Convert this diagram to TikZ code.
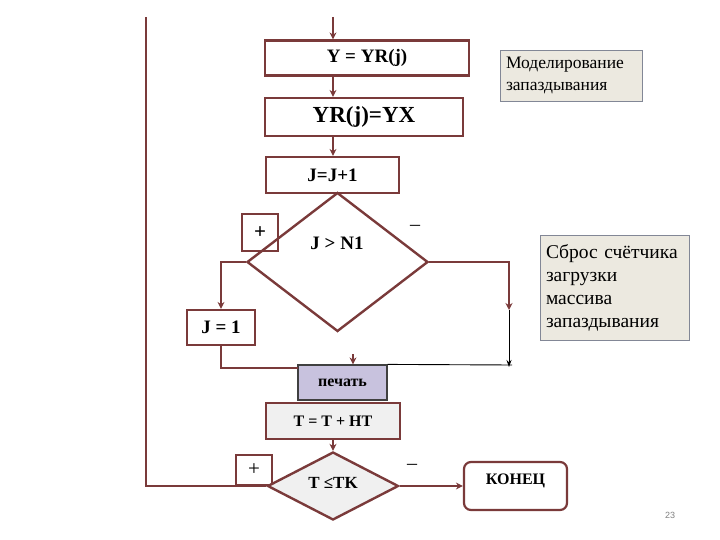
\documentclass[tikz,border=0pt]{standalone}
\usepackage{fontspec}
\setmainfont{Liberation Serif}
\newfontfamily\pgsans{Liberation Sans}
\usetikzlibrary{shapes.geometric,arrows.meta}
\definecolor{br}{RGB}{122,58,58}
\definecolor{beige}{RGB}{236,233,224}
\definecolor{lav}{RGB}{200,194,222}
\definecolor{lgr}{RGB}{240,240,240}
\definecolor{notebd}{RGB}{130,135,150}
\begin{document}
\begin{tikzpicture}[x=1pt,y=-1pt,
  proc/.style={draw=br, line width=2.2pt, fill=white, inner sep=0pt, font=\bfseries\fontsize{19}{22}\selectfont},
  note/.style={draw=notebd, line width=0.8pt, fill=beige, inner ysep=0pt, inner xsep=6pt, align=left},
  dia/.style={diamond, draw=br, line width=2.4pt, inner sep=0pt},
  conn/.style={draw=br, line width=2.2pt},
  arr/.style={conn, -{Stealth[length=7pt,width=7pt]}},
  blk/.style={draw=black, line width=0.9pt},
  txt/.style={inner sep=0pt, font=\bfseries\fontsize{19}{22}\selectfont}
]
\useasboundingbox (0,0) rectangle (720,540);

% process boxes
\node[proc, minimum width=204pt, minimum height=35pt] (n1) at (367,58) {Y = YR(j)};
\node[proc, minimum width=198pt, minimum height=38pt, font=\bfseries\fontsize{23}{26}\selectfont] (n2) at (364,117) {YR(j)=YX};
\node[proc, minimum width=133pt, minimum height=36pt] (n3) at (332.5,175) {J=J+1};

% notes
\node[note, minimum width=142pt, minimum height=51pt, font=\fontsize{17.5}{22}\selectfont, text width=130pt] (mod) at (571,75.5) {Моделирование\\запаздывания};
\node[note, minimum width=149pt, minimum height=105pt, font=\fontsize{19.5}{23}\selectfont, text width=137pt] (sb) at (614.5,287.5) {Сброс счётчика\\загрузки\\массива\\запаздывания};

% decision 1
\node[proc, minimum width=36pt, minimum height=37pt, font=\bfseries\fontsize{21}{22}\selectfont] (pl1) at (260,232.5) {+};
\node[dia, minimum width=181pt, minimum height=139pt] (d1) at (337.5,262) {};
\node[txt] (t1) at (337,243) {J > N1};
\node[txt, font=\fontsize{20}{22}\selectfont] (m1) at (415,228) {–};

\node[proc, minimum width=68pt, minimum height=35pt] (j1) at (221,327.5) {J = 1};

% print, T update
\node[draw=black!75, line width=1.2pt, fill=lav, inner sep=0pt, minimum width=89pt, minimum height=35pt, font=\bfseries\fontsize{16}{18}\selectfont] (p) at (342.5,382.5) {печать};
\node[proc, fill=lgr, minimum width=134pt, minimum height=36pt, font=\bfseries\fontsize{16}{18}\selectfont] (n4) at (333,421) {T = T + HT};

% decision 2
\node[proc, minimum width=36pt, minimum height=30pt, font=\fontsize{21}{22}\selectfont] (pl2) at (254,470) {+};
\node[dia, fill=lgr, minimum width=131pt, minimum height=68pt] (d2) at (333,486) {};
\node[txt, font=\bfseries\fontsize{17}{20}\selectfont] (t2) at (333,483) {T ≤TK};
\node[txt, font=\fontsize{20}{22}\selectfont] (m2) at (412,467) {–};

\node[draw=br, line width=2.2pt, rounded corners=7pt, minimum width=103pt, minimum height=48pt, inner sep=0pt] (end) at (515.5,486) {};
\node[txt, font=\bfseries\fontsize{16}{18}\selectfont] (endt) at (515.5,481) {КОНЕЦ};

\node[inner sep=0pt, text=gray, font=\pgsans\fontsize{9}{10}\selectfont] (pg) at (670,515) {23};

% coordinates
\coordinate (top) at (333,17);
\coordinate (lt) at (146,17);
\coordinate (c1) at (509,310);
\coordinate (c2) at (509,367);
\coordinate (c3) at (512,365);
\coordinate (c4) at (298,368);
\coordinate (c5) at (353,354);

% connectors
\draw[arr] (top) -- (top |- n1.north);
\draw[arr] (n1.south -| top) -- (n2.north -| top);
\draw[arr] (n2.south -| top) -- (n3.north -| top);
\draw[arr] (d1.west) -| (j1.north);
\draw[arr] (d1.east) -| (c1);
\draw[blk, -{Stealth[length=7pt,width=5pt]}] (c1) -- (c2);
\draw[blk] (c3) -- (p.north east);
\draw[conn] (j1.south) |- (c4);
\draw[arr] (c5) -- (c5 |- p.north);
\draw[arr] (n4.south) -- (d2.north);
\draw[arr] (d2.east) -- (end.west);
\draw[conn] (d2.west) -| (lt);
\end{tikzpicture}
\end{document}
